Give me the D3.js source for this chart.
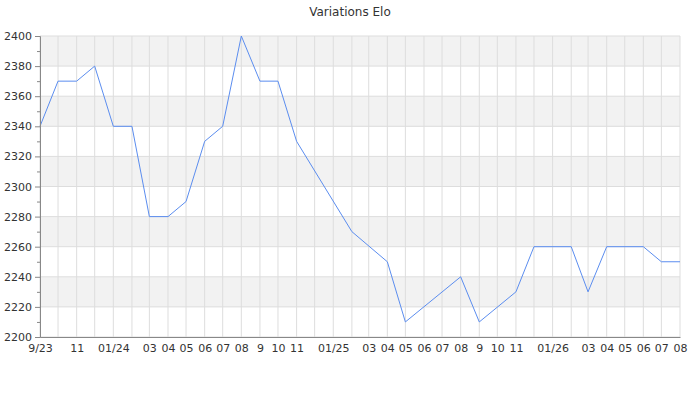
<!DOCTYPE html>
<html>
<head>
<meta charset="utf-8">
<script src="https://cdn.jsdelivr.net/npm/d3@7"></script>
<style>
  body { margin: 0; background: #fff; }
  svg text { font-family: "DejaVu Sans", sans-serif; fill: #333; }
</style>
</head>
<body>
<svg id="chart" width="700" height="400"></svg>
<script>
// months shown on the x axis (one tick per month)
const months = ['2023-09','2023-10','2023-11','2023-12','2024-01','2024-02','2024-03','2024-04','2024-05',
  '2024-06','2024-07','2024-08','2024-09','2024-10','2024-11','2024-12','2025-01','2025-02','2025-03',
  '2025-04','2025-05','2025-06','2025-07','2025-08','2025-09','2025-10','2025-11','2025-12','2026-01',
  '2026-02','2026-03','2026-04','2026-05','2026-06','2026-07','2026-08'];
const tickLabels = ['9/23','','11','','01/24','','03','04','05','06','07','08','9','10','11','','01/25','',
  '03','04','05','06','07','08','9','10','11','','01/26','','03','04','05','06','07','08'];

// rating points
const eloDates = ['2023-09','2023-10','2023-11','2023-12','2024-01','2024-02','2024-03','2024-04','2024-05',
  '2024-06','2024-07','2024-08','2024-09','2024-10','2024-11','2025-02','2025-04','2025-05','2025-08',
  '2025-09','2025-11','2025-12','2026-02','2026-03','2026-04','2026-06','2026-07','2026-08'];
const eloValues = [2340,2370,2370,2380,2340,2340,2280,2280,2290,
  2330,2340,2400,2370,2370,2330,2270,2250,2210,2240,
  2210,2230,2260,2260,2230,2260,2260,2250,2250];

const yTicks = [2200,2220,2240,2260,2280,2300,2320,2340,2360,2380,2400];
const yMinor = [2210,2230,2250,2270,2290,2310,2330,2350,2370,2390];

const parse = d3.timeParse('%Y-%m');
const svg = d3.select('#chart');
const margin = {left: 40, right: 20, top: 36, bottom: 63};
const width = 700 - margin.left - margin.right;
const height = 400 - margin.top - margin.bottom;

const monthDates = months.map(parse);
const x = d3.scaleTime()
  .domain(d3.extent(monthDates))
  .range([0, width]);
const y = d3.scaleLinear().domain([2200, 2400]).range([height, 0]);

svg.append('text')
  .attr('x', 350).attr('y', 16)
  .attr('text-anchor', 'middle')
  .style('font-size', '12px')
  .text('Variations Elo');

const g = svg.append('g').attr('transform', 'translate(' + margin.left + ',' + margin.top + ')');

// alternating grey bands
const bands = d3.range(0, yTicks.length - 1).filter(i => i % 2 === 1);
g.selectAll('rect.band').data(bands).enter().append('rect')
  .attr('class', 'band')
  .attr('x', 0).attr('width', width)
  .attr('y', i => y(yTicks[i + 1]))
  .attr('height', i => y(yTicks[i]) - y(yTicks[i + 1]))
  .attr('fill', '#f2f2f2');

// grid lines
g.selectAll('line.hgrid').data(yTicks).enter().append('line')
  .attr('x1', 0).attr('x2', width)
  .attr('y1', d => y(d)).attr('y2', d => y(d))
  .attr('stroke', '#dddddd');
g.selectAll('line.vgrid').data(monthDates).enter().append('line')
  .attr('x1', d => x(d)).attr('x2', d => x(d))
  .attr('y1', 0).attr('y2', height)
  .attr('stroke', '#dddddd');

// line
const points = eloDates.map((d, i) => ({date: parse(d), value: eloValues[i]}));
const line = d3.line().x(d => x(d.date)).y(d => y(d.value));
g.append('path')
  .datum(points)
  .attr('d', line)
  .attr('fill', 'none')
  .attr('stroke', '#5b8def')
  .attr('stroke-width', 1);

// y axis
const yAxis = g.append('g')
  .call(d3.axisLeft(y).tickValues(yTicks).tickSize(5).tickPadding(3).tickFormat(d3.format('d')));
yAxis.selectAll('.tick text').style('font-size', '11px');
yAxis.select('.domain').attr('stroke', '#888');
yAxis.selectAll('.tick line').attr('stroke', '#888');
g.append('g')
  .call(d3.axisLeft(y).tickValues(yMinor).tickSize(3).tickFormat(''))
  .call(a => a.select('.domain').remove())
  .selectAll('.tick line').attr('stroke', '#888');

// x axis
const xAxis = g.append('g')
  .attr('transform', 'translate(0,' + height + ')')
  .call(d3.axisBottom(x).tickValues(monthDates).tickSize(0).tickPadding(7)
    .tickFormat((d, i) => tickLabels[i]));
xAxis.selectAll('.tick text').style('font-size', '11px');
xAxis.select('.domain').attr('stroke', '#888');
</script>
</body>
</html>
